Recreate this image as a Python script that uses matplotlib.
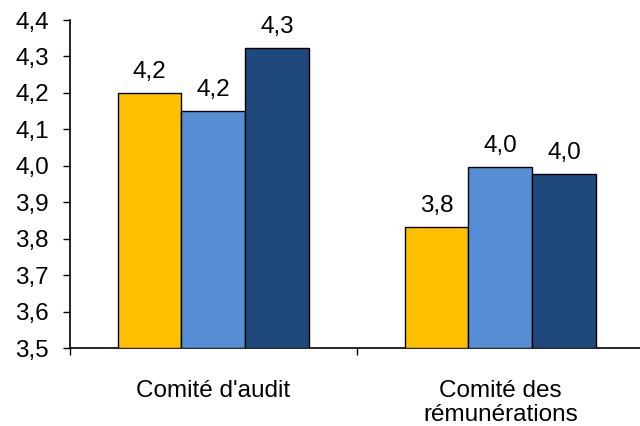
import matplotlib
matplotlib.use("Agg")
import matplotlib.pyplot as plt
import numpy as np

categories = ["Comité d'audit", "Comité des\nrémunérations"]
series_a = [4.20, 3.832]
series_b = [4.15, 3.997]
series_c = [4.323, 3.977]
labels_a = ["4,2", "3,8"]
labels_b = ["4,2", "4,0"]
labels_c = ["4,3", "4,0"]
yticks = [3.5, 3.6, 3.7, 3.8, 3.9, 4.0, 4.1, 4.2, 4.3, 4.4]
ytick_labels = ["3,5", "3,6", "3,7", "3,8", "3,9", "4,0", "4,1", "4,2", "4,3", "4,4"]

colors = ["#FFC000", "#558ED5", "#1F497D"]

plt.rcParams['font.family'] = ['Liberation Sans', 'DejaVu Sans']
FS = 17.5

fig = plt.figure(figsize=(6.4, 4.26), dpi=100)
ax = fig.add_axes([0.109, 0.183, 0.897, 0.770])

x = np.arange(len(categories))
w = 0.222
for i, (vals, labs) in enumerate(zip([series_a, series_b, series_c], [labels_a, labels_b, labels_c])):
    bars = ax.bar(x + (i - 1) * w, [v - 3.5 for v in vals], w, bottom=3.5,
                  color=colors[i], edgecolor="black", linewidth=1.0, zorder=3)
    for b, lab in zip(bars, labs):
        ax.annotate(lab, (b.get_x() + b.get_width() / 2, b.get_y() + b.get_height()),
                    xytext=(0, 7), textcoords="offset points", ha="center", va="bottom",
                    fontsize=FS)

ax.set_xlim(-0.5, 1.5)
ax.set_ylim(3.5, 4.4)
ax.set_yticks(yticks)
ax.set_yticklabels(ytick_labels, fontsize=FS)
ax.tick_params(axis="y", direction="out", length=5, width=1, pad=10)

ax.set_xticks(x)
ax.set_xticklabels(categories, fontsize=FS, linespacing=1.1, va="top")
ax.tick_params(axis="x", which="major", length=0, pad=23)
ax.set_xticks([-0.5, 0.5, 1.5], minor=True)
ax.tick_params(axis="x", which="minor", direction="out", length=5, width=1)

for s in ["top", "right"]:
    ax.spines[s].set_visible(False)
ax.spines["left"].set_linewidth(1.2)
ax.spines["bottom"].set_linewidth(1.2)

fig.savefig("out.png", dpi=100)
